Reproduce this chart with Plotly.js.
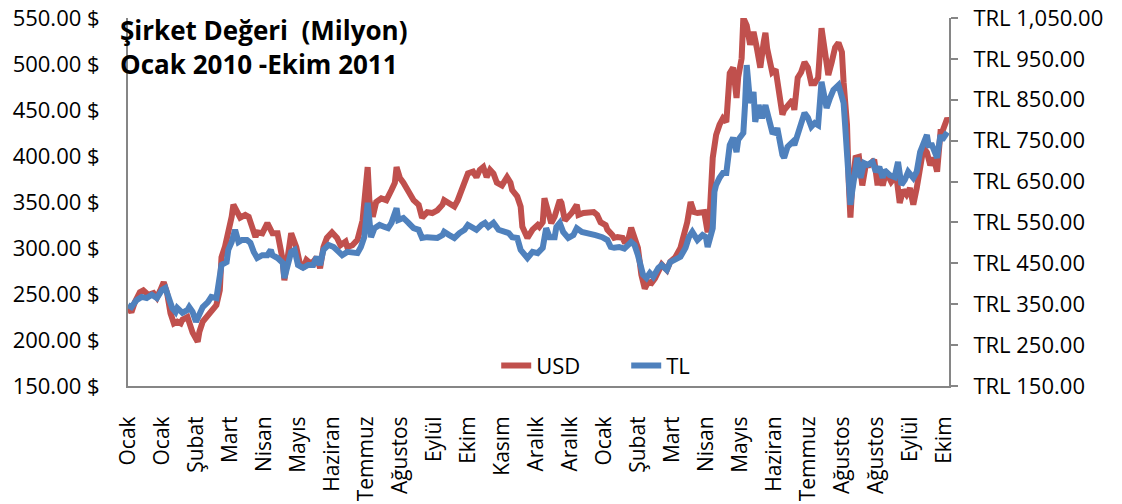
<!DOCTYPE html>
<html>
<head>
<meta charset="utf-8">
<script src="https://cdn.plot.ly/plotly-3.0.1.min.js"></script>
<style>html,body{margin:0;padding:0;background:#fff;}#chart{width:1122px;height:504px;}</style>
</head>
<body>
<div id="chart"></div>
<script>
// Trading-day index (0 = early Jan 2010) and values
const usdDays = [0,2,4,7,9,12,15,17,19,21,23,25,27,29,31,32,35,36,38,41,42,44,46,48,50,52,54,55,57,59,61,62,65,66,69,71,73,75,76,79,82,85,88,89,91,92,94,96,99,101,103,105,107,109,111,113,115,117,120,123,125,128,129,132,135,136,138,141,142,144,146,149,152,155,157,158,160,162,165,168,171,173,176,179,182,185,186,189,192,194,196,198,200,203,205,207,209,211,213,215,217,220,223,225,226,229,231,232,234,235,238,241,242,244,245,247,249,251,254,255,257,259,261,264,265,268,271,274,276,278,281,282,285,286,288,291,292,294,296,298,300,302,304,306,308,310,312,314,317,319,322,325,326,329,331,333,335,338,339,341,342,344,346,348,350,352,354,356,358,359,361,362,364,366,368,370,372,374,375,376,379,381,382,385,386,388,391,392,394,396,398,400,402,404,406,408,409,412,414,416,418,420,421,423,424,425,426,428,430,432,434,436,439,441,442,444,446,449,452,454,456,458,460,462,464,466,468,470,472,474,476,478,479,482,483];
const usdValues = [236,230,241,252,254,249,251,246,254,263,251,229,218,220,218,222,225,218,208,198,209,220,225,229,233,238,254,290,301,316,334,347,334,333,336,334,323,312,317,316,327,316,316,305,287,265,290,316,301,284,278,287,284,285,290,278,301,311,317,311,303,307,301,303,309,316,330,388,352,334,350,354,352,363,371,388,376,371,360,352,347,333,339,338,341,347,352,349,345,352,363,371,381,383,377,385,388,377,385,381,371,368,377,371,363,356,345,323,317,311,320,325,323,328,354,338,327,334,352,349,330,334,338,347,336,338,339,339,336,328,325,320,314,311,312,311,307,307,322,312,300,271,256,263,262,267,274,282,276,285,290,300,307,328,350,339,338,339,339,317,328,398,423,434,441,437,490,496,463,486,506,550,542,521,535,517,496,524,534,517,491,494,480,445,450,455,461,450,485,491,502,496,479,479,485,539,524,488,502,518,523,513,480,434,372,333,365,398,399,368,390,390,396,368,381,368,383,372,379,349,363,358,365,347,365,383,409,404,390,398,383,426,426,441,437];

const tlDays = [0,2,5,8,11,14,17,20,22,24,26,28,29,32,35,36,38,40,42,44,47,49,52,54,55,58,59,61,63,65,67,70,72,74,76,79,82,84,85,88,91,92,94,96,98,100,103,106,109,111,113,115,118,121,124,126,129,132,135,137,139,141,143,145,148,151,153,155,158,159,162,165,168,171,173,176,179,182,185,186,189,192,195,198,200,203,205,208,210,212,215,218,221,224,226,229,231,233,235,238,241,244,246,248,251,252,254,256,259,262,264,267,271,275,279,282,284,286,289,292,296,298,300,302,303,305,307,309,312,314,317,319,322,325,328,330,332,334,335,338,340,341,344,345,346,348,350,352,354,356,358,359,362,363,364,366,368,369,371,373,375,376,379,381,382,385,386,388,391,392,394,396,398,400,402,404,406,408,409,411,413,415,418,419,421,422,424,425,426,428,429,431,433,435,438,440,442,444,445,448,451,453,455,457,459,462,464,466,468,470,471,473,476,478,479,482];
const tlValues = [348,343,360,368,365,373,365,385,390,368,341,331,341,329,336,343,331,307,329,343,355,368,365,409,446,453,483,502,532,502,507,507,500,478,463,470,470,483,470,463,451,414,453,478,483,446,439,446,446,466,446,483,495,490,478,470,478,478,475,490,514,598,514,536,544,539,536,549,585,556,561,549,536,532,512,514,512,512,519,527,519,512,524,532,544,539,532,544,549,539,549,532,527,524,514,512,483,470,463,478,475,488,536,514,514,539,549,527,512,519,536,527,524,519,514,507,490,488,490,486,502,495,470,439,422,414,426,417,439,446,434,453,458,466,488,514,527,514,507,519,514,490,536,625,642,659,671,671,739,757,722,752,769,837,935,842,869,796,837,805,837,820,771,769,781,715,708,735,747,739,764,788,818,806,784,793,788,894,869,830,854,874,886,874,842,781,683,593,625,698,708,659,695,691,698,674,686,659,678,666,661,698,642,654,674,659,674,722,744,764,739,739,708,764,752,771];

// Category axis labels (one every 20 trading days)
const tickDays = [0,20,40,60,80,100,120,140,160,180,200,220,240,260,280,300,320,340,360,380,400,420,440,460,480];
const tickLabels = ["Ocak","Ocak","Şubat","Mart","Nisan","Mayıs","Haziran","Temmuz","Ağustos","Eylül","Ekim","Kasım","Aralık","Aralık","Ocak","Şubat","Mart","Nisan","Mayıs","Haziran","Temmuz","Ağustos","Ağustos","Eylül","Ekim"];

const seriesNames = ["USD","TL"];
const seriesColors = ["#C0504D","#4F81BD"];
const titleText = "Şirket Değeri\u00A0 (Milyon)<br>Ocak 2010 -Ekim 2011";

const FONT = "'Open Sans', 'Noto Sans', sans-serif";

const traces = [
  {x: usdDays, y: usdValues, name: seriesNames[0], type: "scatter", mode: "lines",
   line: {color: seriesColors[0], width: 6}, yaxis: "y", hoverinfo: "skip"},
  {x: tlDays, y: tlValues, name: seriesNames[1], type: "scatter", mode: "lines",
   line: {color: seriesColors[1], width: 6}, yaxis: "y2", hoverinfo: "skip"}
];

const layout = {
  width: 1122, height: 504,
  margin: {l: 128, r: 173, t: 18, b: 118, pad: 0},
  paper_bgcolor: "#ffffff", plot_bgcolor: "#ffffff",
  font: {family: FONT, size: 22, color: "#000000"},
  showlegend: true,
  title: {text: titleText, font: {family: FONT, size: 26, weight: "bold", color: "#000"},
          x: 120/1122, xanchor: "left", xref: "container",
          y: 1 - 40/504, yanchor: "top", yref: "container"},
  xaxis: {range: [0, 483], tickmode: "array", tickvals: tickDays, ticktext: tickLabels,
          tickangle: -90, showgrid: false, zeroline: false, showline: true,
          linecolor: "#868686", linewidth: 2, ticks: "", ticklabelstandoff: 20,
          tickfont: {size: 21}},
  yaxis: {range: [150, 550], dtick: 50, tick0: 150, tickformat: ".2f", ticksuffix: " $",
          showgrid: false, zeroline: false, showline: true, linecolor: "#868686", linewidth: 2,
          ticks: "", ticklabelstandoff: 22, tickfont: {size: 22}},
  yaxis2: {range: [150, 1050], dtick: 100, tick0: 150, tickformat: ",.2f", tickprefix: "TRL ",
           overlaying: "y", side: "right", showgrid: false, zeroline: false, showline: true,
           linecolor: "#868686", linewidth: 2, ticks: "outside", ticklen: 7, tickcolor: "#868686",
           tickwidth: 2, ticklabelstandoff: 11, tickfont: {size: 22}},
  legend: {orientation: "h", x: 0.4485, xanchor: "left", y: 0.055, yanchor: "middle",
           bgcolor: "rgba(0,0,0,0)", font: {size: 22}, entrywidth: 85, entrywidthmode: "pixels"}
};

Plotly.newPlot("chart", traces, layout, {displayModeBar: false, staticPlot: true});
</script>
</body>
</html>
